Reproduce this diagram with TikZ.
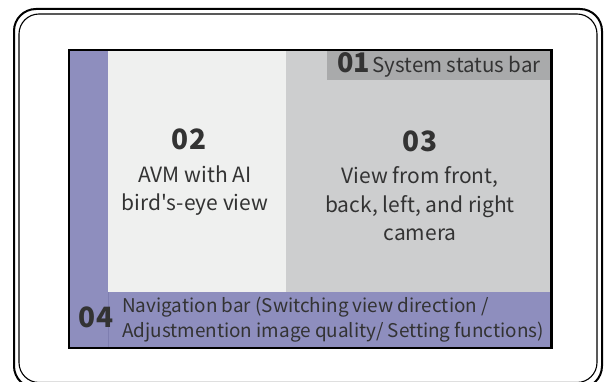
\documentclass[tikz,border=0pt]{standalone}
\usepackage{fontspec}
\setmainfont{Noto Sans CJK SC}[Ligatures=TeXOff]
\definecolor{sidebar}{HTML}{8E8EBE}
\definecolor{sidebarline}{HTML}{7E7EB0}
\definecolor{avmpanel}{HTML}{EFF0EF}
\definecolor{campanel}{HTML}{CDCECF}
\definecolor{statusbar}{HTML}{A9AAAB}
\definecolor{ink}{HTML}{333333}
\tikzset{
  bignum/.style={text=ink, font=\fontsize{28}{30}\selectfont\bfseries, inner sep=0pt},
  paneltext/.style={text=ink, font=\fontsize{21}{28.5}\selectfont, align=center, inner sep=0pt},
  navtext/.style={text=ink, font=\fontsize{18.9}{25}\selectfont, align=left, inner sep=0pt},
  bezel/.style={draw=black, line width=2pt, rounded corners=22pt},
  bezelinner/.style={draw=black, line width=1.1pt, rounded corners=20pt},
}
\begin{document}
\begin{tikzpicture}[x=1pt,y=-1pt]
\useasboundingbox (0,0) rectangle (614,382);
\fill[white] (0,0) rectangle (614,382);
% device bezel (double outline)
\draw[bezel] (14,9) rectangle (602,388);
\draw[bezelinner] (19,14) rectangle (597,382.5);
% screen areas
\fill[sidebar] (69,50) rectangle (551.5,348);
\fill[avmpanel] (108,50) rectangle (286,292.5);
\fill[campanel] (286,50) rectangle (551.5,292.5);
\fill[statusbar] (327,50) rectangle (551.5,80);
\draw[sidebarline, line width=0.6pt] (108,292.5) -- (108,348);
\draw[black, line width=2.5pt] (69,50) rectangle (551.5,348);
% labels (multi-line nodes sit on the baseline of their last line)
\node[anchor=base east, text=ink, inner sep=0pt] (status) at (541,73)
  {{\fontsize{27}{30}\selectfont\bfseries 01}\hspace{0.25em}{\fontsize{20.5}{24}\selectfont System status bar}};
\node[bignum] (n02) at (189,139.5) {02};
\node[paneltext, anchor=base] (t02) at (195,210.7) {AVM with AI\\bird's-eye view};
\node[bignum] (n03) at (420,141) {03};
\node[paneltext, anchor=base] (t03) at (420,241) {View from front,\\back, left, and right\\camera};
\node[bignum] (n04) at (96,317) {04};
\node[navtext, anchor=base west] (nav) at (122,338)
  {Navigation bar (Switching view direction /\\Adjustmention image quality/ Setting functions)};
\end{tikzpicture}
\end{document}
